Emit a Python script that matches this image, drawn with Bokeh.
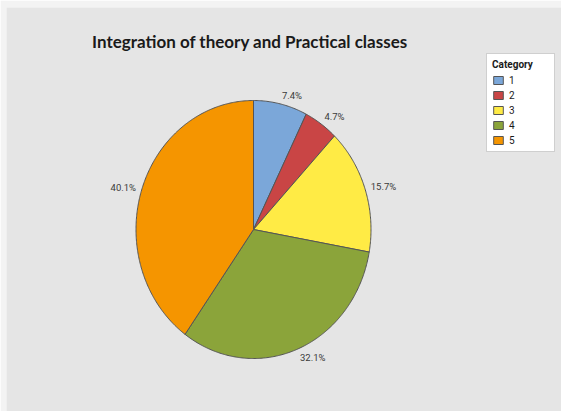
import numpy as np
from bokeh.plotting import figure
from bokeh.models import Range1d, Label, Legend, LegendItem, ColumnDataSource
from bokeh.embed import file_html
from bokeh.resources import INLINE

# ---- data ----
categories = ["1", "2", "3", "4", "5"]
percents = [7.4, 4.7, 15.7, 32.1, 40.1]
pct_labels = ["7.4%", "4.7%", "15.7%", "32.1%", "40.1%"]
colors = ["#7BA7D9", "#C94545", "#FFEB45", "#8BA43A", "#F59500"]
title_text = "Integration of theory and Practical classes"
legend_title = "Category"

# ---- layout ----
W, H = 561, 411
BL, BT = 6, 7                       # light outer strip (left / top)
FW, FH = W - BL, H - BT             # frame size
cx, cy = 253 - BL, 229 - BT         # pie centre in frame pixels (from top-left)
rx, ry = 117.5, 129.0               # pixel radii (pie is slightly elliptical)

p = figure(width=W, height=H, output_backend="svg", toolbar_location=None,
           x_axis_type=None, y_axis_type=None,
           x_range=Range1d(-cx / rx, (FW - cx) / rx),
           y_range=Range1d(-(FH - cy) / ry, cy / ry),
           min_border_left=BL, min_border_top=BT,
           min_border_right=0, min_border_bottom=0,
           background_fill_color="#E5E5E5",
           border_fill_color="#F3F3F3", outline_line_color=None)

fr = np.array(percents) / sum(percents)
ends = np.cumsum(fr)
starts = ends - fr

items = []
lx, ly, la = [], [], []
for i, cat in enumerate(categories):
    a0, a1 = starts[i] * 2 * np.pi, ends[i] * 2 * np.pi
    t = np.linspace(a0, a1, max(int((a1 - a0) / 0.01), 4))
    xs = np.concatenate([[0.0], np.sin(t), [0.0]])
    ys = np.concatenate([[0.0], np.cos(t), [0.0]])
    r = p.patch(xs, ys, fill_color=colors[i], line_color="#555555", line_width=1)
    items.append(LegendItem(label=cat, renderers=[r]))
    am = (a0 + a1) / 2
    lx.append(1.05 * np.sin(am))
    ly.append(1.07 * np.cos(am))
    la.append("left" if np.sin(am) >= 0 else "right")

src = ColumnDataSource(dict(x=lx, y=ly, text=pct_labels, align=la))
p.text(x="x", y="y", text="text", source=src, text_align="align",
       text_baseline="middle", text_font_size="9.5px", text_color="#3A3A3A",
       text_font={"value": "Roboto"})

# title, placed in the same data space as the pie
p.add_layout(Label(x=(249.5 - 253) / rx, y=(229 - 41) / ry,
                   text=title_text, text_align="center", text_baseline="alphabetic",
                   text_font="Lato", text_font_size="17px", text_font_style="bold",
                   text_color="#1A1A1A"))

legend = Legend(items=items, title=legend_title, location=(480, 259),
                background_fill_color="white", background_fill_alpha=1.0,
                border_line_color="#A0A0A0", border_line_width=1,
                padding=5, margin=0, spacing=3,
                glyph_width=12, glyph_height=10, label_height=12,
                label_standoff=5, label_width=40,
                label_text_font="Roboto", label_text_font_size="10px",
                label_text_color="#1A1A1A",
                title_text_font="Roboto", title_text_font_size="10px",
                title_text_font_style="bold", title_standoff=4,
                title_text_color="#1A1A1A")
p.add_layout(legend, "center")

open("out.html", "w").write(file_html(p, INLINE))
